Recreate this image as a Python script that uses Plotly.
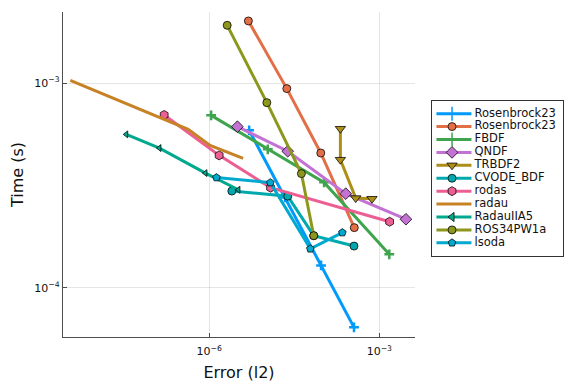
import plotly.graph_objects as go

# ---- data (Error l2, Time s) ----
names = ["Rosenbrock23", "Rosenbrock23", "FBDF", "QNDF", "TRBDF2", "CVODE_BDF",
         "rodas", "radau", "RadauIIA5", "ROS34PW1a", "lsoda"]

ros23a_err = [5.07e-6, 2.18e-5, 9.4e-5, 3.58e-4]
ros23a_time = [5.87e-4, 2.76e-4, 1.285e-4, 6.4e-5]

ros23b_err = [4.92e-6, 2.34e-5, 9.29e-5, 3.62e-4]
ros23b_time = [2.01e-3, 9.39e-4, 4.55e-4, 1.965e-4]

fbdf_err = [1.084e-6, 1.08e-5, 1.062e-4, 1.5e-3]
fbdf_time = [6.95e-4, 4.74e-4, 3.27e-4, 1.455e-4]

qndf_err = [3.15e-6, 2.43e-5, 2.56e-4, 2.95e-3]
qndf_time = [6.12e-4, 4.64e-4, 2.88e-4, 2.16e-4]

trbdf2_err = [2.06e-4, 2.06e-4, 3.84e-4, 7.43e-4]
trbdf2_time = [5.98e-4, 4.22e-4, 2.74e-4, 2.72e-4]

cvode_err = [2.51e-6, 2.43e-5, 6.98e-5, 3.58e-4]
cvode_time = [2.965e-4, 2.80e-4, 1.795e-4, 1.597e-4]

rodas_err = [1.61e-7, 1.5e-6, 1.21e-5, 1.52e-3]
rodas_time = [6.98e-4, 4.43e-4, 3.08e-4, 2.10e-4]

radau_err = [3.56e-9, 4.27e-7, 1.04e-6, 3.97e-6]
radau_time = [1.031e-3, 5.94e-4, 4.96e-4, 4.28e-4]

radauiia5_err = [3.45e-8, 1.33e-7, 8.6e-7, 3.28e-6]
radauiia5_time = [5.61e-4, 4.81e-4, 3.63e-4, 3.01e-4]

ros34_err = [2.08e-6, 1.04e-5, 4.23e-5, 6.98e-5]
ros34_time = [1.914e-3, 8.02e-4, 3.61e-4, 1.795e-4]

lsoda_err = [1.345e-6, 1.2e-5, 6.08e-5, 2.23e-4]
lsoda_time = [3.45e-4, 3.26e-4, 1.548e-4, 1.858e-4]

x_tickvals = [1e-6, 1e-3]
x_ticktext = ["10<sup>−6</sup>", "10<sup>−3</sup>"]
y_tickvals = [1e-4, 1e-3]
y_ticktext = ["10<sup>−4</sup>", "10<sup>−3</sup>"]

# ---- styles ----
colors = ["#009AFA", "#E36F47", "#3EA44E", "#C371D2", "#AC8E18", "#00A9AD",
          "#ED5E93", "#C68225", "#00A98D", "#8E971D", "#00A9CD"]
symbols = ["cross-thin", "circle", "cross-thin", "diamond", "triangle-down", "circle",
           "hexagon", None, "triangle-left", "circle", "pentagon"]
sizes = [7, 8, 7, 9, 9, 8, 9, 0, 6, 8, 8]

series = [(ros23a_err, ros23a_time), (ros23b_err, ros23b_time), (fbdf_err, fbdf_time),
          (qndf_err, qndf_time), (trbdf2_err, trbdf2_time), (cvode_err, cvode_time),
          (rodas_err, rodas_time), (radau_err, radau_time), (radauiia5_err, radauiia5_time),
          (ros34_err, ros34_time), (lsoda_err, lsoda_time)]

FONT = "DejaVu Sans"
OUTLINE = "rgba(0,0,0,0.85)"


def marker_style(i, size, cross_w=2.5):
    sym = symbols[i]
    if sym is None:
        return dict(size=0, color=colors[i])
    if sym == "cross-thin":
        return dict(symbol=sym, size=size, color=colors[i],
                    line=dict(color=colors[i], width=cross_w))
    return dict(symbol=sym, size=size, color=colors[i],
                line=dict(color=OUTLINE, width=0.9))


fig = go.Figure()

for i, (ex, ty) in enumerate(series):
    mode = "lines" if symbols[i] is None else "lines+markers"
    fig.add_trace(go.Scatter(
        x=ex, y=ty, mode=mode, name=names[i],
        line=dict(color=colors[i], width=3),
        marker=marker_style(i, sizes[i]),
        xaxis="x", yaxis="y", showlegend=False, hoverinfo="skip"))

# ---- legend drawn on its own small axes ----
for i, nm in enumerate(names):
    fig.add_trace(go.Scatter(
        x=[0.034, 0.301], y=[i, i], mode="lines",
        line=dict(color=colors[i], width=3),
        xaxis="x2", yaxis="y2", showlegend=False, hoverinfo="skip"))
    if symbols[i] is not None:
        fig.add_trace(go.Scatter(
            x=[0.153], y=[i], mode="markers",
            marker=marker_style(i, 10 if symbols[i] == "cross-thin" else max(sizes[i], 8), 1.5),
            xaxis="x2", yaxis="y2", showlegend=False, hoverinfo="skip"))

fig.add_trace(go.Scatter(
    x=[0.325] * len(names), y=list(range(len(names))), mode="text",
    text=names, textposition="middle right",
    textfont=dict(family=FONT, size=11.5, color="#111"),
    xaxis="x2", yaxis="y2", showlegend=False, hoverinfo="skip"))

axis_line = dict(showline=True, linecolor="#4d4d4d", linewidth=1.2)

# the page body adds an 8 px offset, margins compensate for it
fig.update_layout(
    width=576, height=384,
    margin=dict(l=55, r=10, t=4, b=55, autoexpand=False),
    paper_bgcolor="white", plot_bgcolor="white",
    font=dict(family=FONT, color="#222"),
    xaxis=dict(
        type="log", domain=[0, 0.6888], range=[-8.577, -2.371],
        tickmode="array", tickvals=x_tickvals, ticktext=x_ticktext,
        ticks="inside", ticklen=4, tickcolor="#4d4d4d",
        tickfont=dict(family=FONT, size=11, color="#111"),
        ticklabelstandoff=4,
        showgrid=True, gridcolor="rgba(0,0,0,0.1)", gridwidth=1,
        zeroline=False, mirror=False, automargin=False,
        title=dict(text="Error (l2)", font=dict(family=FONT, size=16, color="#111"),
                   standoff=9),
        **axis_line),
    yaxis=dict(
        type="log", domain=[0, 1], range=[-4.241, -2.653],
        tickmode="array", tickvals=y_tickvals, ticktext=y_ticktext,
        ticks="inside", ticklen=4, tickcolor="#4d4d4d",
        tickfont=dict(family=FONT, size=11, color="#111"),
        showgrid=True, gridcolor="rgba(0,0,0,0.1)", gridwidth=1,
        zeroline=False, mirror=False, automargin=False,
        title=dict(text="Time (s)", font=dict(family=FONT, size=16, color="#111"),
                   standoff=26),
        **axis_line),
    xaxis2=dict(domain=[0.7221, 0.9785], range=[0, 1], anchor="y2",
                showline=True, mirror=True, linecolor="#333", linewidth=1,
                showgrid=False, zeroline=False, showticklabels=False, ticks="",
                fixedrange=True, automargin=False),
    yaxis2=dict(domain=[0.250, 0.727], range=[11, -1], anchor="x2",
                showline=True, mirror=True, linecolor="#333", linewidth=1,
                showgrid=False, zeroline=False, showticklabels=False, ticks="",
                fixedrange=True, automargin=False),
)

fig.write_html("out.html")
